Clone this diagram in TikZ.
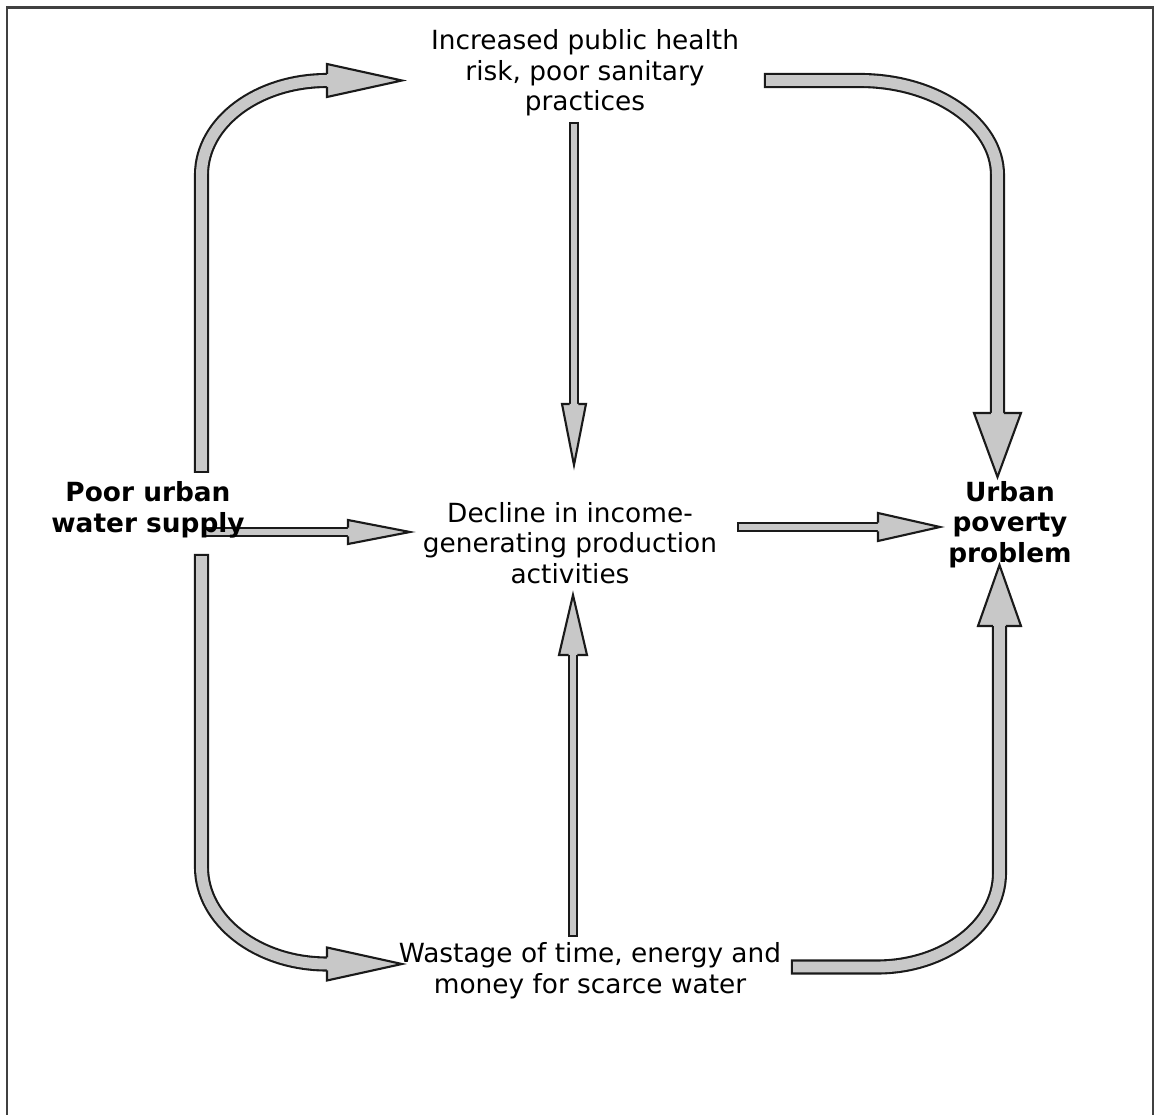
\documentclass[tikz,border=0pt]{standalone}
\usepackage{fontspec}
\setmainfont{DejaVu Sans}
\usepackage{tikz}
\usetikzlibrary{calc, backgrounds}

\definecolor{arrowgray}{RGB}{200,200,200}
\definecolor{arrowline}{RGB}{26,26,26}

\tikzset{
    txt/.style={align=center, inner sep=0pt, font={\fontsize{7.5}{8.7}\selectfont}},
    boldtxt/.style={txt, font={\fontsize{7.5}{8.7}\selectfont\bfseries}},
    shaftout/.style={draw=arrowline, line width=4.3pt},
    shaftin/.style={draw=arrowgray, line width=3.1pt, shorten <=0.6pt},
    thinout/.style={draw=arrowline, line width=3.1pt},
    thinin/.style={draw=arrowgray, line width=1.9pt, shorten <=0.6pt},
    headbox/.style={fill=arrowgray, draw=arrowline, line width=0.6pt, line join=miter},
    frameline/.style={draw=black!75, line width=0.7pt}
}

\begin{document}
\begin{tikzpicture}[x=0.01cm, y=-0.01cm]
    \useasboundingbox (0,0) rectangle (1156,1115);
    \draw[frameline] (7,1115) -- (7,7.5) -- (1153,7.5) -- (1153,1115);

    % the five texts
    \node[txt] (risk) at (585,73) {Increased public health\\risk, poor sanitary\\practices};
    \node[boldtxt] (poor) at (148,510) {Poor urban\\water supply};
    \node[txt] (decline) at (570,543) {Decline in income-\\generating production\\activities};
    \node[boldtxt] (poverty) at (1010,524.5) {Urban\\poverty\\problem};
    \node[txt] (waste) at (590,971) {Wastage of time, energy and\\money for scarce water};

    % where the arrows start and end
    \coordinate (a1s) at ([shift={(53.5,-37)}]poor.center);
    \coordinate (a1t) at ([shift={(-183,7.5)}]risk.center);
    \coordinate (a2s) at ([shift={(179,7.5)}]risk.center);
    \coordinate (a2t) at ([shift={(-12.5,-47.5)}]poverty.center);
    \coordinate (a3s) at ([shift={(-11,49)}]risk.center);
    \coordinate (a3t) at ([shift={(4,-78)}]decline.center);
    \coordinate (a4s) at ([shift={(55,22)}]poor.center);
    \coordinate (a4t) at ([shift={(-160,-11)}]decline.center);
    \coordinate (a5s) at ([shift={(167,-16)}]decline.center);
    \coordinate (a5t) at ([shift={(-70,2.5)}]poverty.center);
    \coordinate (a6s) at ([shift={(53.5,44)}]poor.center);
    \coordinate (a6t) at ([shift={(-188,-7)}]waste.center);
    \coordinate (a7s) at ([shift={(-17,-34)}]waste.center);
    \coordinate (a7t) at ([shift={(3,52)}]decline.center);
    \coordinate (a8s) at ([shift={(201,-4)}]waste.center);
    \coordinate (a8t) at ([shift={(-10.5,40.5)}]poverty.center);

    \begin{scope}[on background layer]
    % poor supply -> health risk
    \draw[shaftout] (a1s) -- ++(0,-298) .. controls +(0,-52.5) and +(-69.5,0) .. ($(a1t)+(-75,0)$);
    \draw[shaftin] (a1s) -- ++(0,-298) .. controls +(0,-52.5) and +(-69.5,0) .. ($(a1t)+(-75,0)$);
    \filldraw[headbox] ($(a1t)+(-75,-6.5)$) -- ++(0,-10) -- (a1t) -- ++(-75,16.5) -- ++(0,-10);

    % health risk -> poverty
    \draw[shaftout] (a2s) -- ++(96,0) .. controls +(75.6,0) and +(0,-52) .. ($(a2t)+(0,-302)$) -- ($(a2t)+(0,-64)$);
    \draw[shaftin] (a2s) -- ++(96,0) .. controls +(75.6,0) and +(0,-52) .. ($(a2t)+(0,-302)$) -- ($(a2t)+(0,-64)$);
    \filldraw[headbox] ($(a2t)+(-6.5,-64)$) -- ++(-17,0) -- (a2t) -- ++(23.5,-64) -- ++(-17,0);

    % health risk -> decline
    \draw[thinout] (a3s) -- ($(a3t)+(0,-61)$);
    \draw[thinin] (a3s) -- ($(a3t)+(0,-61)$);
    \filldraw[headbox] ($(a3t)+(-4.4,-61)$) -- ++(-7.6,0) -- (a3t) -- ++(12,-61) -- ++(-7.6,0);

    % poor supply -> decline
    \draw[thinout] (a4s) -- ($(a4t)+(-62,0)$);
    \draw[thinin] (a4s) -- ($(a4t)+(-62,0)$);
    \filldraw[headbox] ($(a4t)+(-62,-4.4)$) -- ++(0,-7.6) -- (a4t) -- ++(-62,12) -- ++(0,-7.6);

    % decline -> poverty
    \draw[thinout] (a5s) -- ($(a5t)+(-62,0)$);
    \draw[thinin] (a5s) -- ($(a5t)+(-62,0)$);
    \filldraw[headbox] ($(a5t)+(-62,-4.4)$) -- ++(0,-9.6) -- (a5t) -- ++(-62,14) -- ++(0,-9.6);

    % poor supply -> wastage
    \draw[shaftout] (a6s) -- ++(0,313) .. controls +(0,53.5) and +(-69.5,0) .. ($(a6t)+(-75,0)$);
    \draw[shaftin] (a6s) -- ++(0,313) .. controls +(0,53.5) and +(-69.5,0) .. ($(a6t)+(-75,0)$);
    \filldraw[headbox] ($(a6t)+(-75,-6.5)$) -- ++(0,-10) -- (a6t) -- ++(-75,16.5) -- ++(0,-10);

    % wastage -> decline
    \draw[thinout] (a7s) -- ($(a7t)+(0,60)$);
    \draw[thinin] (a7s) -- ($(a7t)+(0,60)$);
    \filldraw[headbox] ($(a7t)+(-4.4,60)$) -- ++(-9.6,0) -- (a7t) -- ++(14,60) -- ++(-9.6,0);

    % wastage -> poverty
    \draw[shaftout] (a8s) -- ++(86,0) .. controls +(67.6,0) and +(0,52) .. ($(a8t)+(0,308)$) -- ($(a8t)+(0,61)$);
    \draw[shaftin] (a8s) -- ++(86,0) .. controls +(67.6,0) and +(0,52) .. ($(a8t)+(0,308)$) -- ($(a8t)+(0,61)$);
    \filldraw[headbox] ($(a8t)+(-6.5,61)$) -- ++(-15,0) -- (a8t) -- ++(21.5,61) -- ++(-15,0);
    \end{scope}
\end{tikzpicture}
\end{document}
